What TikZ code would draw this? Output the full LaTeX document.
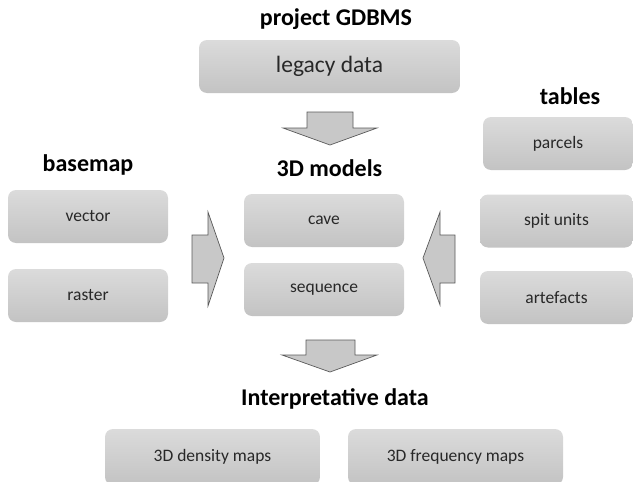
\documentclass[tikz,border=0pt]{standalone}
\usepackage{fontspec}
\setmainfont{Carlito}
\usepackage{tikz}
\usepackage{xcolor}
\definecolor{boxtop}{RGB}{219,219,219}
\definecolor{boxbot}{RGB}{195,195,195}
\definecolor{boxtext}{RGB}{40,40,40}
\definecolor{arrowfill}{RGB}{200,200,200}
\definecolor{arrowline}{RGB}{90,90,90}
\begin{document}
\begin{tikzpicture}[x=1pt,y=-1pt]
\tikzstyle{every node}=[inner sep=0pt,outer sep=0pt]
\tikzstyle{databox}=[rectangle,rounded corners=8pt,top color=boxtop,bottom color=boxbot,
  text=boxtext,font=\fontsize{17.5}{20}\selectfont,minimum height=53pt]
\tikzstyle{grouptitle}=[anchor=base,font=\fontsize{24}{28}\selectfont\bfseries]
\tikzstyle{bigarrow}=[fill=arrowfill,draw=arrowline,line width=0.7pt,line join=miter]
\useasboundingbox (0,0) rectangle (633,482);
\node[grouptitle] (gdbms) at (336,25) {project GDBMS};
\node[databox,minimum width=261pt,font=\fontsize{23.5}{28}\selectfont] (legacy) at (329.5,66.5) {legacy data};
\node[grouptitle] (tables) at (570,104) {tables};
\node[databox,minimum width=150pt] (parcels) at (558,143.5) {parcels};
\node[databox,minimum width=153pt] (spit) at (556.5,221) {spit units};
\node[databox,minimum width=153pt] (artefacts) at (556.5,297.5) {artefacts};
\node[grouptitle] (basemap) at (88,171) {basemap};
\node[databox,minimum width=160pt] (vector) at (88,216.5) {vector};
\node[databox,minimum width=160pt] (raster) at (88,295.5) {raster};
\node[grouptitle] (models) at (329.5,176) {3D models};
\node[databox,minimum width=160pt] (cave) at (324,220.5) {cave};
\node[databox,minimum width=160pt] (sequence) at (324,289.5) {sequence};
\node[grouptitle] (interp) at (335,405) {Interpretative data};
\node[databox,minimum width=215pt,minimum height=56pt] (density) at (212.5,457) {3D density maps};
\node[databox,minimum width=215pt,minimum height=56pt] (frequency) at (455.5,457) {3D frequency maps};
\draw[bigarrow] (307,112) -- (353,112) -- (353,128) -- (377,128) -- (330,145) -- (283,128) -- (307,128) -- cycle;
\draw[bigarrow] (192,235) -- (208,235) -- (208,212) -- (224,258) -- (208,306) -- (208,283) -- (192,283) -- cycle;
\draw[bigarrow] (455,235) -- (440,235) -- (440,212) -- (423,258) -- (440,305) -- (440,283) -- (455,283) -- cycle;
\draw[bigarrow] (306,340) -- (355,340) -- (355,355) -- (377,355) -- (330,372) -- (282,355) -- (306,355) -- cycle;
\end{tikzpicture}
\end{document}
